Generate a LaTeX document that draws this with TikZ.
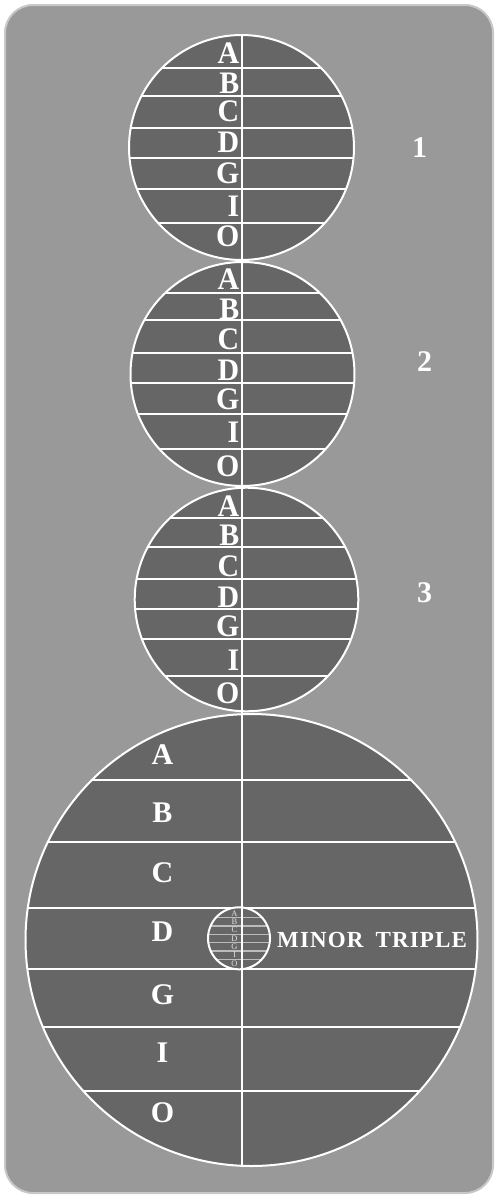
\documentclass[tikz,border=0pt]{standalone}
\usepackage{fontspec}
\setmainfont{Liberation Serif}
\newfontfamily\spacedserif[LetterSpace=5]{Liberation Serif}
\definecolor{bg}{HTML}{999999}
\definecolor{disc}{HTML}{666666}
\definecolor{rim}{HTML}{C8C8C8}
\definecolor{fine}{HTML}{BBBBBB}
\definecolor{finetext}{HTML}{E0E0E0}
\tikzset{
  cell/.style={text=white, inner sep=0pt, font=\fontsize{29}{29}\selectfont\bfseries},
  bigcell/.style={text=white, inner sep=0pt, font=\fontsize{30}{30}\selectfont\bfseries},
  tinycell/.style={text=finetext, inner sep=0pt, font=\fontsize{8.5}{8.5}\selectfont},
  num/.style={text=white, inner sep=0pt, font=\fontsize{30}{30}\selectfont\bfseries},
  rule/.style={white, line width=2pt},
}
\begin{document}
\begin{tikzpicture}[x=1pt,y=-1pt]
\useasboundingbox (0,0) rectangle (497,1197);
\draw[rim, fill=bg, line width=2pt, rounded corners=28pt] (5,5) rectangle (493,1193);

% circle 1
\fill[disc] (241.5,147.5) circle[radius=112.5];
\begin{scope}
\clip (241.5,147.5) circle[radius=112.5];
\foreach \y in {68,96,128,158,189,223} \draw[rule] (100,\y) -- (400,\y);
\end{scope}
\draw[rule] (241.5,147.5) circle[radius=112.5];

% circle 2
\fill[disc] (242.5,374) circle[radius=112];
\begin{scope}
\clip (242.5,374) circle[radius=112];
\foreach \y in {292.7,320.3,353.3,383.3,414,449.3} \draw[rule] (100,\y) -- (400,\y);
\end{scope}
\draw[rule] (242.5,374) circle[radius=112];

% circle 3
\fill[disc] (246.5,599.5) circle[radius=111.8];
\begin{scope}
\clip (246.5,599.5) circle[radius=111.8];
\foreach \y in {518.3,546.7,579,609,639.3,675.7} \draw[rule] (100,\y) -- (400,\y);
\end{scope}
\draw[rule] (246.5,599.5) circle[radius=111.8];

% big circle
\fill[disc] (251.5,940) circle[radius=226];
\begin{scope}
\clip (251.5,940) circle[radius=226];
\foreach \y in {780,841.7,908.3,969.3,1026.7,1090.7} \draw[rule] (0,\y) -- (497,\y);
\end{scope}
\draw[rule] (251.5,940) circle[radius=226];

% small circle
\fill[disc] (239,938.3) circle[radius=31];
\begin{scope}
\clip (239,938.3) circle[radius=31];
\foreach \y in {917.7,926,934.3,942.7,951,959.3} \draw[fine, line width=1.2pt] (200,\y) -- (280,\y);
\end{scope}
\draw[rule] (239,938.3) circle[radius=31];

% vertical axis
\coordinate (top) at (241.5,35);
\coordinate (bot) at (241.5,1166);
\draw[rule] (top) -- (bot);

% letters circle 1
\foreach \t/\y [count=\i] in {A/52.7,B/83.3,C/111.7,D/142.7,G/173.3,I/206.7,O/236.7}
  \node[cell, anchor=east] (a\i) at (239.5,\y) {\scalebox{1.03}[1.08]{\t}};
% letters circle 2
\foreach \t/\y [count=\i] in {A/279.3,B/309.3,C/339.3,D/370,G/399.3,I/432.7,O/466}
  \node[cell, anchor=east] (b\i) at (239.5,\y) {\scalebox{1.03}[1.08]{\t}};
% letters circle 3
\foreach \t/\y [count=\i] in {A/506,B/535,C/566,D/597.3,G/626.7,I/660,O/693.3}
  \node[cell, anchor=east] (c\i) at (239.5,\y) {\scalebox{1.03}[1.08]{\t}};
% letters big circle
\foreach \t/\y [count=\i] in {A/755,B/813,C/873,D/932,G/995,I/1053,O/1113}
  \node[bigcell] (d\i) at (162.5,\y) {\t};
% letters small circle
\foreach \t/\y [count=\i] in {A/913.5,B/921.8,C/930.2,D/938.5,G/946.8,I/955.2,O/963.5}
  \node[tinycell] (e\i) at (234.5,\y) {\t};

\node[anchor=west, text=white, inner sep=0pt, font=\fontsize{23}{23}\spacedserif\bfseries] (mt) at (277,940) {MINOR\hspace{12pt}TRIPLE};

\node[num] (n1) at (419.5,147.5) {1};
\node[num] (n2) at (424.5,362) {2};
\node[num] (n3) at (424.5,593) {3};
\end{tikzpicture}
\end{document}
